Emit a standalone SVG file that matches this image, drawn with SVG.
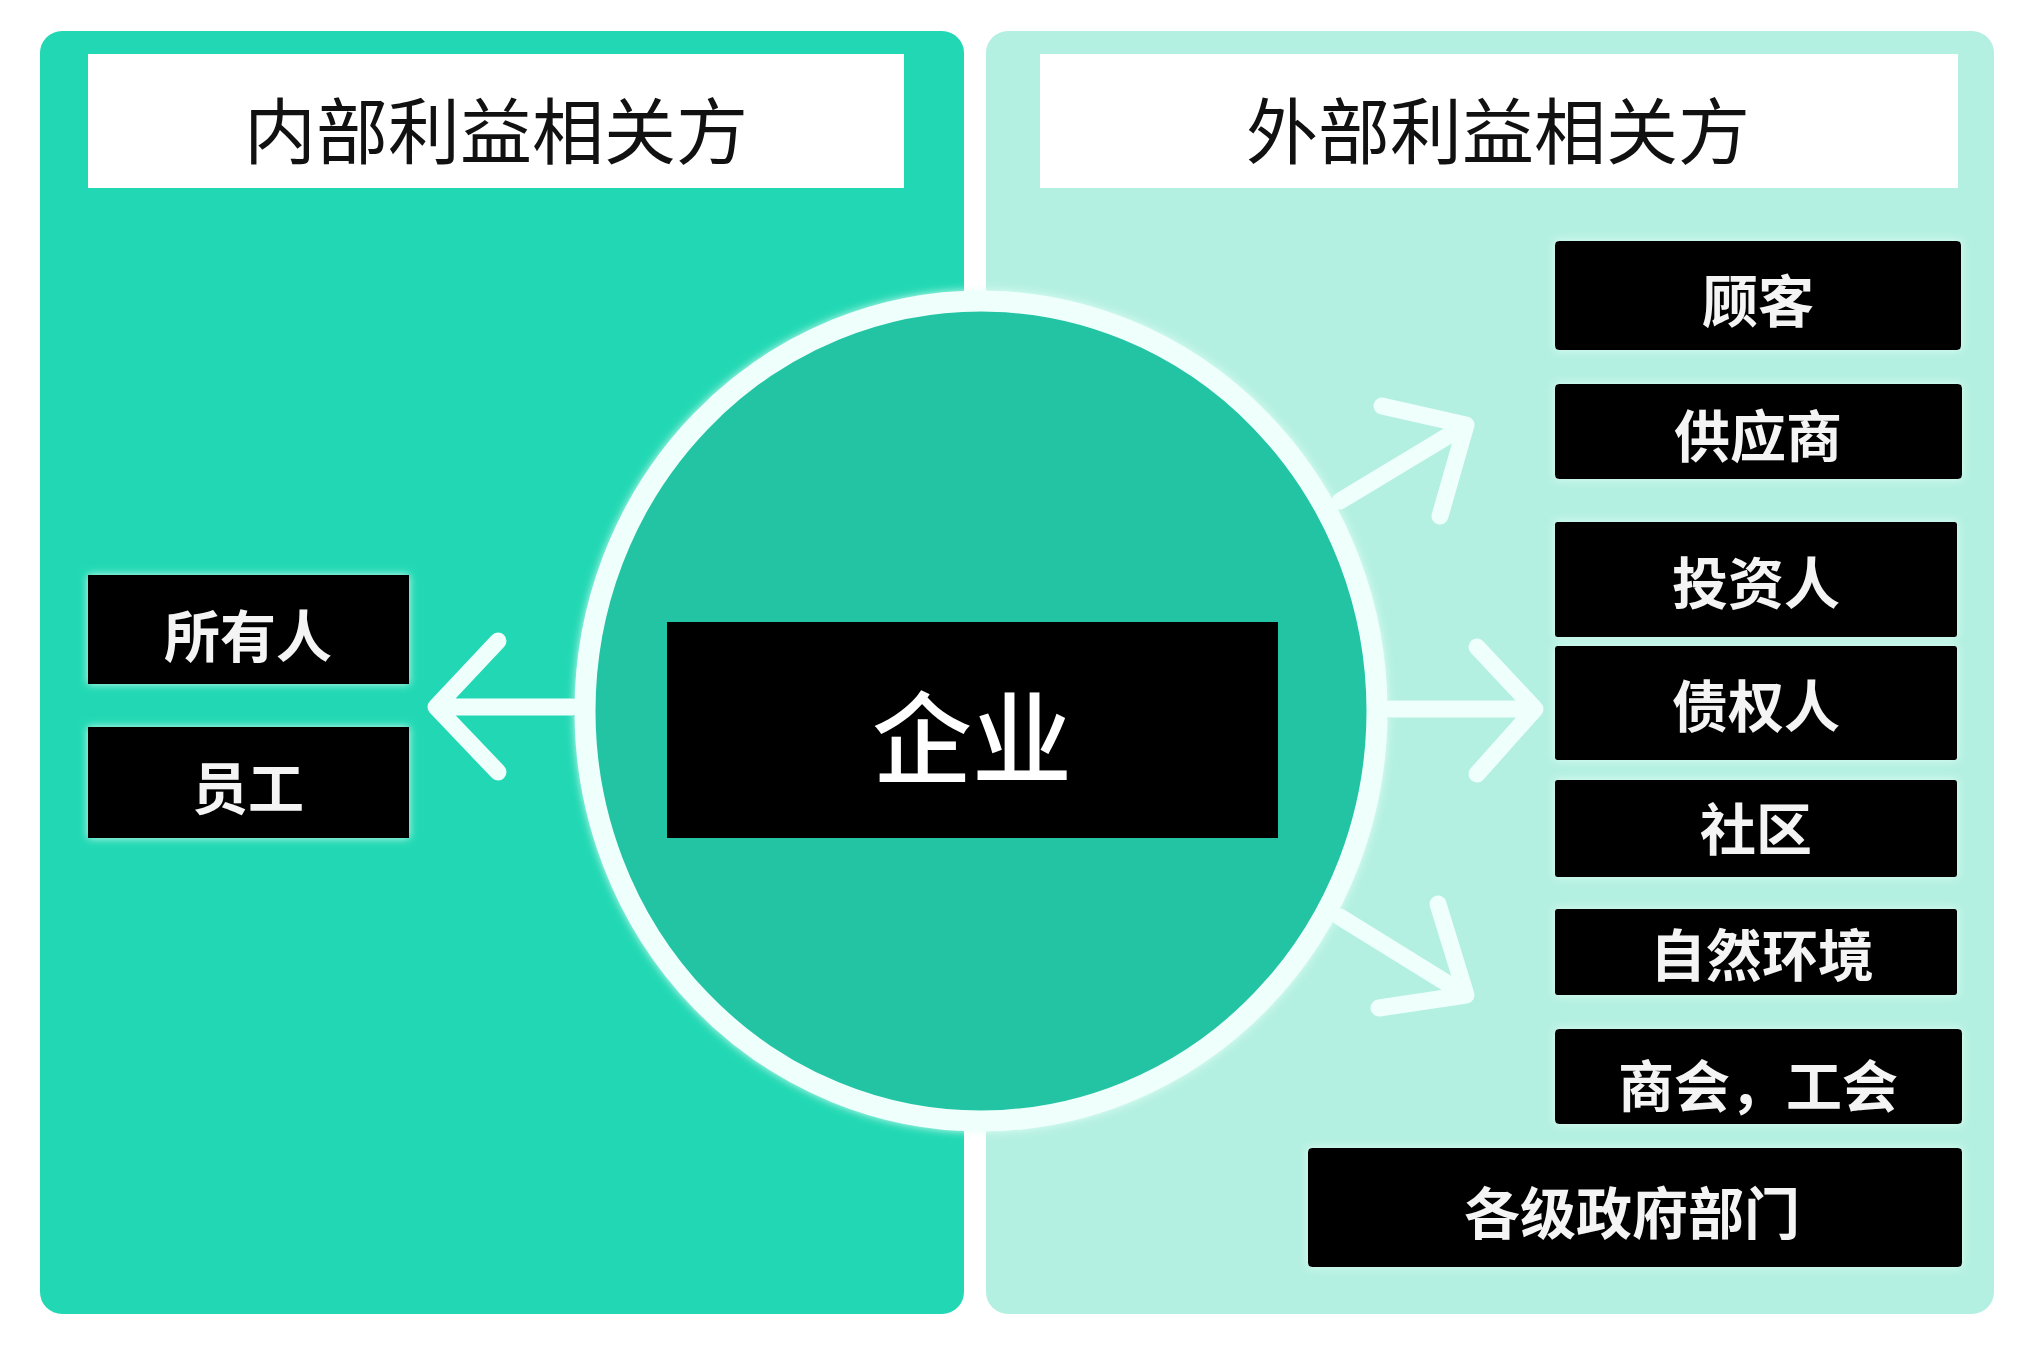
<svg xmlns="http://www.w3.org/2000/svg" width="2040" height="1360" viewBox="0 0 2040 1360">
<defs>
<style>
.hdr{fill:#ffffff;}
.hdrtxt{font-family:"Noto Sans CJK SC","Noto Sans",sans-serif;font-size:72px;fill:#111111;text-anchor:middle;}
.box{fill:#000000;}
.boxtxt{font-family:"Noto Sans CJK SC","Noto Sans",sans-serif;font-size:56px;font-weight:700;fill:#f4f4f4;text-anchor:middle;}
.core{font-family:"Noto Sans CJK SC","Noto Sans",sans-serif;font-size:100px;font-weight:500;fill:#ffffff;text-anchor:middle;}
.arrow{fill:none;stroke:#effffb;stroke-width:17;stroke-linecap:round;stroke-linejoin:round;}
</style>
<filter id="glow" x="-10%" y="-10%" width="120%" height="120%">
<feGaussianBlur in="SourceAlpha" stdDeviation="4" result="b"/>
<feFlood flood-color="#e6fff8" flood-opacity="0.9"/>
<feComposite in2="b" operator="in" result="g"/>
<feMerge><feMergeNode in="g"/><feMergeNode in="SourceGraphic"/></feMerge>
</filter>
</defs>
<rect width="2040" height="1360" fill="#ffffff"/>
<g id="panel-internal">
<rect x="40" y="31" width="924" height="1283" rx="22" fill="#22d8b4"/>
<rect class="hdr" x="88" y="54" width="816" height="134"/>
<text class="hdrtxt" x="496" y="158">内部利益相关方</text>
</g>
<g id="panel-external">
<rect x="986" y="31" width="1008" height="1283" rx="22" fill="#b4f0e1"/>
<rect class="hdr" x="1040" y="54" width="918" height="134"/>
<text class="hdrtxt" x="1498" y="158">外部利益相关方</text>
</g>
<g id="enterprise">
<ellipse cx="981" cy="711" rx="396" ry="410" fill="#22c4a4" stroke="#effffb" stroke-width="21" filter="url(#glow)"/>
<rect class="box" x="667" y="622" width="611" height="216"/>
<text class="core" x="972" y="776">企业</text>
</g>
<g id="connectors">
<path class="arrow" d="M572 707 L436 707 M498 641 L436 707 L498 772"/>
<path class="arrow" d="M1390 709 L1535 709 M1477 647 L1535 709 L1477 774"/>
<path class="arrow" d="M1340 501 L1466 425 M1382 406 L1466 425 L1440 516"/>
<path class="arrow" d="M1340 917 L1466 995 M1438 904 L1466 995 L1379 1008"/>
</g>
<g id="owner" filter="url(#glow)">
<rect class="box" x="88" y="575" width="321" height="109"/>
<text class="boxtxt" x="248" y="657">所有人</text>
</g>
<g id="employee" filter="url(#glow)">
<rect class="box" x="88" y="727" width="321" height="111"/>
<text class="boxtxt" x="248" y="809">员工</text>
</g>
<g id="customer" filter="url(#glow)">
<rect class="box" x="1555" y="241" width="406" height="109" rx="4"/>
<text class="boxtxt" x="1758" y="322">顾客</text>
</g>
<g id="supplier" filter="url(#glow)">
<rect class="box" x="1555" y="384" width="407" height="95" rx="4"/>
<text class="boxtxt" x="1758" y="457">供应商</text>
</g>
<g id="investor" filter="url(#glow)">
<rect class="box" x="1555" y="522" width="402" height="115" rx="2"/>
<text class="boxtxt" x="1756" y="604">投资人</text>
</g>
<g id="creditor" filter="url(#glow)">
<rect class="box" x="1555" y="646" width="402" height="114" rx="2"/>
<text class="boxtxt" x="1756" y="727">债权人</text>
</g>
<g id="community" filter="url(#glow)">
<rect class="box" x="1555" y="780" width="402" height="97" rx="2"/>
<text class="boxtxt" x="1756" y="850">社区</text>
</g>
<g id="environment" filter="url(#glow)">
<rect class="box" x="1555" y="909" width="402" height="86" rx="2"/>
<text class="boxtxt" x="1762" y="976">自然环境</text>
</g>
<g id="chambers" filter="url(#glow)">
<rect class="box" x="1555" y="1029" width="407" height="95" rx="4"/>
<text class="boxtxt" x="1758" y="1107">商会，工会</text>
</g>
<g id="government" filter="url(#glow)">
<rect class="box" x="1308" y="1148" width="654" height="119" rx="4"/>
<text class="boxtxt" x="1632" y="1234">各级政府部门</text>
</g>
</svg>
